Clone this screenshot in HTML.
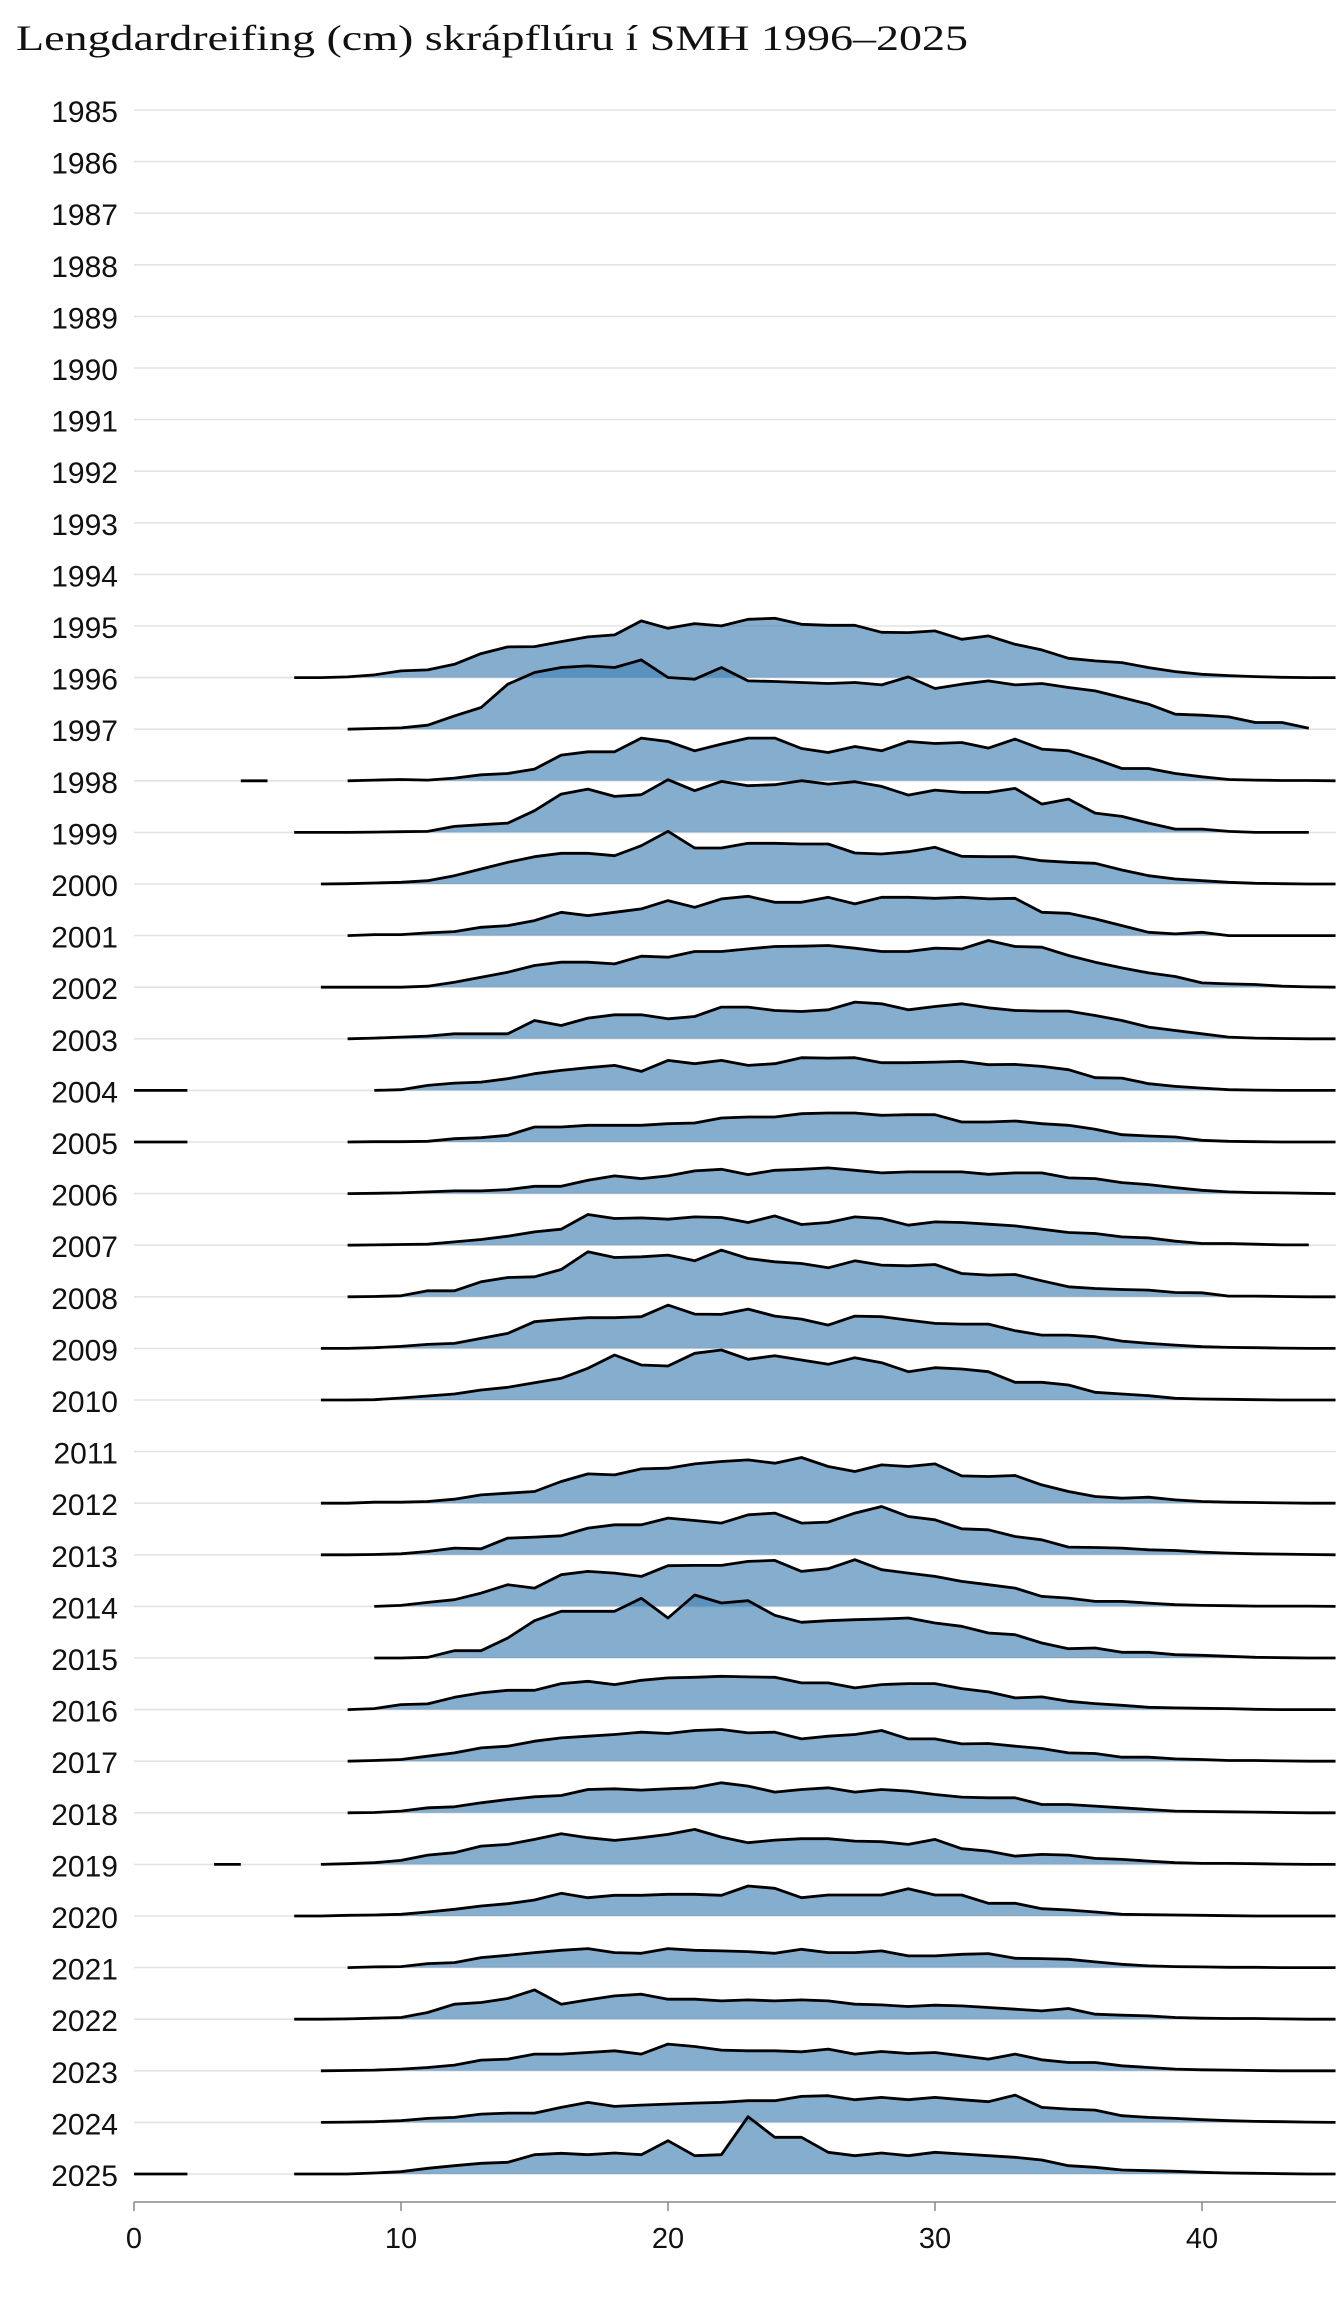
<!DOCTYPE html>
<html><head><meta charset="utf-8"><style>
html,body{margin:0;padding:0;background:#fff;}
svg{display:block;}
</style></head><body>
<svg id="c" width="1344" height="2304" xmlns="http://www.w3.org/2000/svg">
<rect width="1344" height="2304" fill="#fff"/>
<text x="16" y="50" font-family="Liberation Serif, serif" font-size="36" textLength="952" lengthAdjust="spacingAndGlyphs" fill="#111">Lengdardreifing (cm) skrápflúru í SMH 1996–2025</text>
<g id="grid"></g>
<g id="labels" font-family="Liberation Sans, sans-serif" font-size="30" fill="#111" text-anchor="end"></g>
<g id="ridges"></g>
<line x1="134" y1="2202" x2="1336" y2="2202" stroke="#888" stroke-width="1.5"/>
<g font-family="Liberation Sans, sans-serif" font-size="29" fill="#111" text-anchor="middle">
<line x1="134" y1="2202" x2="134" y2="2211" stroke="#888" stroke-width="1.5"/><text x="134" y="2248">0</text>
<line x1="401" y1="2202" x2="401" y2="2211" stroke="#888" stroke-width="1.5"/><text x="401" y="2248">10</text>
<line x1="668" y1="2202" x2="668" y2="2211" stroke="#888" stroke-width="1.5"/><text x="668" y="2248">20</text>
<line x1="935" y1="2202" x2="935" y2="2211" stroke="#888" stroke-width="1.5"/><text x="935" y="2248">30</text>
<line x1="1202" y1="2202" x2="1202" y2="2211" stroke="#888" stroke-width="1.5"/><text x="1202" y="2248">40</text>
</g>
</svg>
<script>
var NS="http://www.w3.org/2000/svg";
function X(c){return 134+26.7*c;}
function Y(yr){return 110+51.6*(yr-1985);}
var grid=document.getElementById("grid"),lab=document.getElementById("labels"),rg=document.getElementById("ridges");
for(var yr=1985;yr<=2025;yr++){
 var l=document.createElementNS(NS,"line");
 l.setAttribute("x1",134);l.setAttribute("x2",1336);l.setAttribute("y1",Y(yr));l.setAttribute("y2",Y(yr));
 l.setAttribute("stroke","#e3e3e3");l.setAttribute("stroke-width","1.6");grid.appendChild(l);
 var t=document.createElementNS(NS,"text");t.setAttribute("x",118);t.setAttribute("y",Y(yr)+12);t.textContent=yr;lab.appendChild(t);
}
var D={
1996:[6,"0 0 2 8 20 23 40 72 92 93 108 122 128 170 148 162 155 175 178 160 157 157 136 135 140 115 125 100 83 58 50 45 30 18 10 6 3 1 0 0"],
1997:[8,"0 2 4 12 40 65 135 170 185 190 185 208 155 150 185 145 143 140 137 140 133 157 122 135 145 133 137 125 115 95 75 45 42 37 20 20 3"],
1998:[8,"0 2 4 2 8 18 22 35 77 87 87 128 118 90 110 128 128 97 85 103 90 118 112 115 98 125 95 90 65 37 37 22 12 4 2 1 1 0"],
1999:[6,"0 0 0 1 2 3 18 23 28 65 115 130 108 113 158 125 153 140 143 155 145 152 138 112 127 120 120 132 85 100 58 48 28 10 10 3 0 0 0"],
2000:[7,"0 1 3 5 10 25 45 65 82 92 92 85 115 158 108 108 122 122 120 120 93 90 97 110 83 82 82 70 65 62 42 25 15 10 5 2 1 0 0"],
2001:[8,"0 3 3 8 12 25 30 45 70 60 70 80 105 85 110 118 100 100 115 95 115 115 112 115 110 112 70 67 50 30 10 5 10 0 0 0 0 0"],
2002:[7,"0 0 0 0 3 15 30 45 65 75 75 70 93 90 107 107 115 122 123 125 117 107 107 117 115 140 122 120 95 75 58 43 32 13 10 8 3 1 0"],
2003:[8,"0 2 5 8 15 15 15 55 40 62 72 72 60 67 95 95 85 82 87 110 105 87 97 105 93 85 83 83 70 55 35 25 15 5 2 1 0 0"],
2004:[9,"0 2 15 22 25 35 50 60 68 75 57 90 80 90 75 80 98 97 98 83 83 85 87 77 78 72 62 38 37 20 12 7 2 1 0 0 0"],
2005:[8,"0 1 1 2 10 13 20 45 45 50 50 50 55 57 72 75 75 85 87 87 80 82 82 60 60 63 55 50 38 22 18 15 5 2 1 0 0 0"],
2006:[8,"0 1 2 5 8 8 12 22 22 40 53 45 53 68 73 57 70 73 77 70 62 65 65 65 58 62 62 47 45 33 27 18 10 5 3 2 1 0"],
2007:[8,"0 1 2 3 10 17 27 40 48 92 80 82 78 85 83 68 88 62 68 85 80 60 70 68 63 58 48 38 35 25 22 12 5 5 3 1 1"],
2008:[8,"0 1 3 18 18 45 58 60 82 135 118 120 125 108 140 115 105 100 87 108 95 93 97 70 65 67 48 30 25 22 20 13 12 2 2 1 0 0"],
2009:[7,"0 0 2 6 12 15 30 45 80 87 92 92 95 130 103 102 118 97 88 70 97 95 85 75 73 73 53 40 40 35 22 15 10 5 3 2 1 0 0"],
2010:[7,"0 0 1 6 12 18 30 38 52 65 95 135 105 102 140 150 122 133 120 107 127 112 85 97 93 85 53 53 45 23 18 13 5 3 2 1 0 0 0"],
2012:[7,"0 0 3 3 5 12 25 30 35 65 88 85 103 105 118 125 130 120 137 110 95 115 110 118 82 80 83 55 35 20 15 18 10 5 3 2 1 0 0"],
2013:[7,"0 0 1 3 10 20 18 50 53 57 80 90 90 110 103 95 120 125 95 98 125 145 115 105 78 75 55 45 23 22 20 15 13 8 5 3 2 1 0"],
2014:[9,"0 3 12 20 40 65 55 95 105 100 90 122 123 123 135 138 105 113 140 110 100 90 75 65 55 30 25 15 15 10 5 3 2 1 1 1 0"],
2015:[9,"0 0 2 22 22 60 112 140 140 140 179 120 189 165 172 128 107 112 115 117 120 105 95 75 70 45 28 30 17 17 10 8 5 2 1 0 0"],
2016:[8,"0 3 15 17 37 50 58 58 78 85 75 88 95 97 100 98 97 80 80 65 75 78 78 63 53 35 38 25 18 13 7 5 4 3 1 0 0 0"],
2017:[8,"0 2 5 15 25 40 45 60 70 75 80 87 83 92 95 85 87 67 75 80 92 67 67 52 53 45 38 25 23 12 12 7 5 2 2 1 0 0"],
2018:[8,"0 1 5 15 18 30 40 48 52 70 72 68 72 75 90 80 62 70 75 62 70 65 55 47 45 45 25 25 20 15 10 5 4 3 2 1 0 0"],
2019:[7,"0 2 5 12 28 35 55 60 75 92 80 72 80 90 105 82 65 73 77 77 70 68 60 75 47 40 25 30 28 18 15 10 5 3 3 2 1 0 0"],
2020:[6,"0 0 2 3 5 12 20 30 37 48 68 55 62 62 65 65 62 90 83 55 63 63 63 82 63 63 38 38 22 18 12 5 4 3 2 1 0 0 0 0"],
2021:[8,"0 2 3 12 15 30 37 45 52 57 45 43 57 52 50 48 43 55 45 45 50 35 35 40 42 28 27 25 17 10 5 3 2 1 1 0 0 0"],
2022:[6,"0 0 1 3 5 20 45 50 62 88 45 58 70 75 60 60 55 58 55 58 55 45 43 38 42 40 35 30 25 32 15 12 10 5 3 2 2 1 0 0"],
2023:[7,"0 1 2 5 10 17 32 35 50 50 55 60 50 80 73 62 60 60 57 65 50 58 52 55 45 35 50 33 25 25 15 10 5 3 2 1 0 0 0"],
2024:[7,"0 1 2 5 12 15 25 28 28 45 60 48 52 55 58 60 65 65 78 80 68 75 68 75 68 62 82 45 40 37 20 15 12 8 5 3 2 1 0"],
2025:[6,"0 0 0 3 7 17 25 32 35 58 62 58 63 58 100 55 58 172 110 110 65 55 63 55 65 60 55 50 42 25 20 12 10 8 5 3 2 1 0 0"]
};
var segs=[[1998,4,5],[2004,0,2],[2005,0,2],[2019,3,4],[2025,0,2]];
var years=Object.keys(D).map(Number).sort(function(a,b){return a-b;});
years.forEach(function(yr){
 var s=D[yr][0],v=D[yr][1].split(" ").map(Number),b=Y(yr);
 var pts=[];
 for(var i=0;i<v.length;i++){pts.push(X(s+i).toFixed(1)+","+(b-v[i]/3).toFixed(1));}
 var e=s+v.length-1;
 var poly=document.createElementNS(NS,"polygon");
 poly.setAttribute("points",X(s).toFixed(1)+","+b+" "+pts.join(" ")+" "+X(e).toFixed(1)+","+b);
 poly.setAttribute("fill","rgb(70,130,180)");poly.setAttribute("fill-opacity","0.66");
 rg.appendChild(poly);
 var pl=document.createElementNS(NS,"polyline");
 pl.setAttribute("points",pts.join(" "));pl.setAttribute("fill","none");
 pl.setAttribute("stroke","#000");pl.setAttribute("stroke-width","2.8");pl.setAttribute("stroke-linejoin","round");
 rg.appendChild(pl);
});
segs.forEach(function(sg){
 var l=document.createElementNS(NS,"line");
 l.setAttribute("x1",X(sg[1]));l.setAttribute("x2",X(sg[2]));l.setAttribute("y1",Y(sg[0]));l.setAttribute("y2",Y(sg[0]));
 l.setAttribute("stroke","#000");l.setAttribute("stroke-width","2.8");rg.appendChild(l);
});
</script>
</body></html>
